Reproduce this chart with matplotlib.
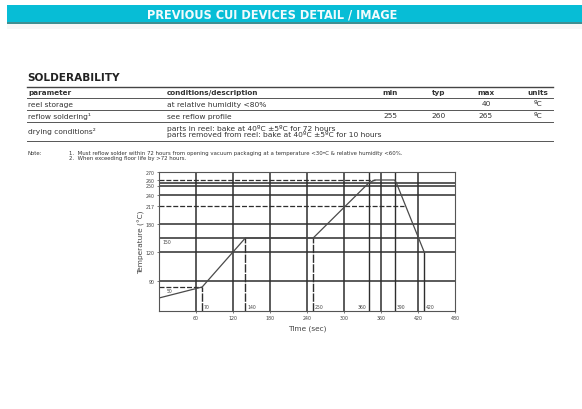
import numpy as np
import matplotlib.pyplot as plt
from matplotlib.lines import Line2D
from matplotlib.patches import Rectangle

# ---- data ----
header_title = "PREVIOUS CUI DEVICES DETAIL / IMAGE"
section_title = "SOLDERABILITY"
col_names = ["parameter", "conditions/description", "min", "typ", "max", "units"]
row_params = ["reel storage", "reflow soldering\u00b9", "drying conditions\u00b2"]
row_conditions = ["at relative humidity <80%",
                  "see reflow profile",
                  "parts in reel: bake at 40\u00baC \u00b15\u00baC for 72 hours\n"
                  "parts removed from reel: bake at 40\u00baC \u00b15\u00baC for 10 hours"]
row_min = ["", "255", ""]
row_typ = ["", "260", ""]
row_max = ["40", "265", ""]
row_units = ["\u00baC", "\u00baC", ""]
notes = ["1.  Must reflow solder within 72 hours from opening vacuum packaging at a temperature <30\u00baC & relative humidity <60%.",
         "2.  When exceeding floor life by >72 hours."]

# reflow profile (schematic)
profile_time = [0, 70, 140, 250, 340, 350, 382, 385, 430]
profile_temp = [25, 50, 150, 150, 255, 260, 260, 255, 120]
x_ticks = [60, 120, 180, 240, 300, 360, 420, 480]
y_ticks = [90, 120, 180, 217, 240, 250, 260, 270]
grid_temps = [90, 120, 150, 180, 240, 250, 255]
grid_times = [60, 120, 180, 240, 300, 360, 420]
drop_times = [70, 140, 250]
drop_labels = ["70", "140", "250"]
peak_times = [340, 382]
peak_labels = ["360", "390"]
end_label = "420"

W, H = 582, 410
fig = plt.figure(figsize=(W / 100, H / 100), dpi=100)
fig.patch.set_facecolor('white')

def fx(x):
    return x / W

def fy(y):
    return 1 - y / H

def hline(y, x0, x1, lw=0.7, color='#555555'):
    fig.add_artist(Line2D([fx(x0), fx(x1)], [fy(y), fy(y)], lw=lw, color=color,
                          transform=fig.transFigure))

# header bar
fig.add_artist(Rectangle((fx(7), fy(23)), fx(575), 17 / H, transform=fig.transFigure,
                         color='#07bdd6', lw=0))
fig.add_artist(Rectangle((fx(7), fy(24.5)), fx(575), 1.8 / H, transform=fig.transFigure,
                         color='#3f8f92', lw=0))
fig.add_artist(Rectangle((fx(7), fy(30)), fx(575), 5.5 / H, transform=fig.transFigure,
                         color='#f7f7f7', lw=0))
fig.text(fx(272), fy(14.5), header_title, color='#f2fbfd', fontsize=9.1, fontweight='bold',
         family='DejaVu Sans', fontstretch='condensed', ha='center', va='center')

# section title + table
txt = '#333333'
fig.text(fx(27), fy(78.5), section_title, fontsize=7.6, fontweight='bold', color='#222222',
         ha='left', va='center')
col_x = [28, 167, 390, 439, 486, 538]
col_ha = ['left', 'left', 'center', 'center', 'center', 'center']
for name, x, ha in zip(col_names, col_x, col_ha):
    fig.text(fx(x), fy(93), name, fontsize=5.2, fontweight='bold', color=txt, ha=ha, va='center')

row_y = [104.5, 116.5, 131.5]
for i in range(len(row_params)):
    cells = [row_params[i], row_conditions[i], row_min[i], row_typ[i], row_max[i], row_units[i]]
    for cell, x, ha in zip(cells, col_x, col_ha):
        fig.text(fx(x), fy(row_y[i]), cell, fontsize=5.4, color=txt, ha=ha, va='center',
                 linespacing=0.85)

hline(88, 27, 553, lw=1.0, color='#444444')
for y in [98.5, 110.5, 122.5, 142]:
    hline(y, 27, 553)

fig.text(fx(28), fy(153.5), "Note:", fontsize=3.9, color=txt, ha='left', va='center')
for i, n in enumerate(notes):
    fig.text(fx(69), fy(153.5 + 5 * i), n, fontsize=3.9, color=txt, ha='left', va='center')

# ---- reflow chart ----
ax = fig.add_axes([fx(159), fy(312), (455 - 159) / W, (312 - 173) / H])

# non-uniform (schematic) temperature axis
knot_temp = [0, 25, 50, 90, 120, 150, 180, 217, 240, 250, 255, 260, 270]
knot_pos = [0, 13, 24, 30, 59, 73, 87, 105, 116, 125.5, 128, 131, 139]

def fwd(v):
    return np.interp(v, knot_temp, knot_pos)

def inv(p):
    return np.interp(p, knot_pos, knot_temp)

ax.set_yscale('function', functions=(fwd, inv))
ax.set_xlim(0, 480)
ax.set_ylim(0, 270)

gcol = '#2e2e2e'
ax.hlines(grid_temps, 0, 480, color=gcol, lw=1.1)
ax.vlines(grid_times, 0, 270, color=gcol, lw=1.1)

t_arr = np.array(profile_time, float)
y_arr = np.array(profile_temp, float)
# dashed reference levels up to where the profile reaches them
ax.hlines(profile_temp[1], 0, profile_time[1], color=gcol, lw=0.9, linestyles=(0, (4, 1.5)))
ax.hlines(profile_temp[5], 0, profile_time[5], color=gcol, lw=0.9, linestyles=(0, (4, 1.5)))
t217 = np.interp(217, y_arr[-2:][::-1], t_arr[-2:][::-1])
ax.hlines(217, 0, t217, color=gcol, lw=0.9, linestyles=(0, (4, 1.5)))

# drop lines from profile corners
for t, lab in zip(drop_times, drop_labels):
    tv = np.interp(t, t_arr, y_arr)
    ax.vlines(t, 0, tv, color=gcol, lw=1.0, linestyles=(0, (6, 1)))
    ax.text(t + 3, 4, lab, fontsize=3.3, color='#444444', ha='left', va='bottom')
for t, lab, ha, off in zip(peak_times, peak_labels, ['right', 'left'], [-3, 4]):
    ax.vlines(t, 0, 270, color=gcol, lw=1.0)
    ax.text(t + off, 4, lab, fontsize=3.3, color='#444444', ha=ha, va='bottom')
ax.vlines(profile_time[-1], 0, profile_temp[-1], color=gcol, lw=1.0)
ax.text(profile_time[-1] + 3, 4, end_label, fontsize=3.3, color='#444444', ha='left', va='bottom')

ax.plot(profile_time, profile_temp, color='#4a4a4a', lw=0.9)
ax.text(5, 147, "150", fontsize=3.3, color='#444444', ha='left', va='top')
ax.text(12, 47, "50", fontsize=3.3, color='#444444', ha='left', va='top')

ax.set_xticks(x_ticks)
ax.set_xticklabels([str(v) for v in x_ticks])
ax.set_yticks(y_ticks)
ax.set_yticklabels([str(v) for v in y_ticks])
ax.minorticks_off()
ax.tick_params(length=1.5, width=0.5, pad=1.5, labelsize=3.4, colors='#444444')
for s in ax.spines.values():
    s.set_color('#555555')
    s.set_linewidth(0.8)
ax.set_xlabel("Time (sec)", fontsize=5.3, color='#444444', labelpad=3)
ax.set_ylabel("Temperature (\u00b0C)", fontsize=5.3, color='#444444', labelpad=0.5)

fig.savefig('out.png', dpi=100, facecolor='white')
